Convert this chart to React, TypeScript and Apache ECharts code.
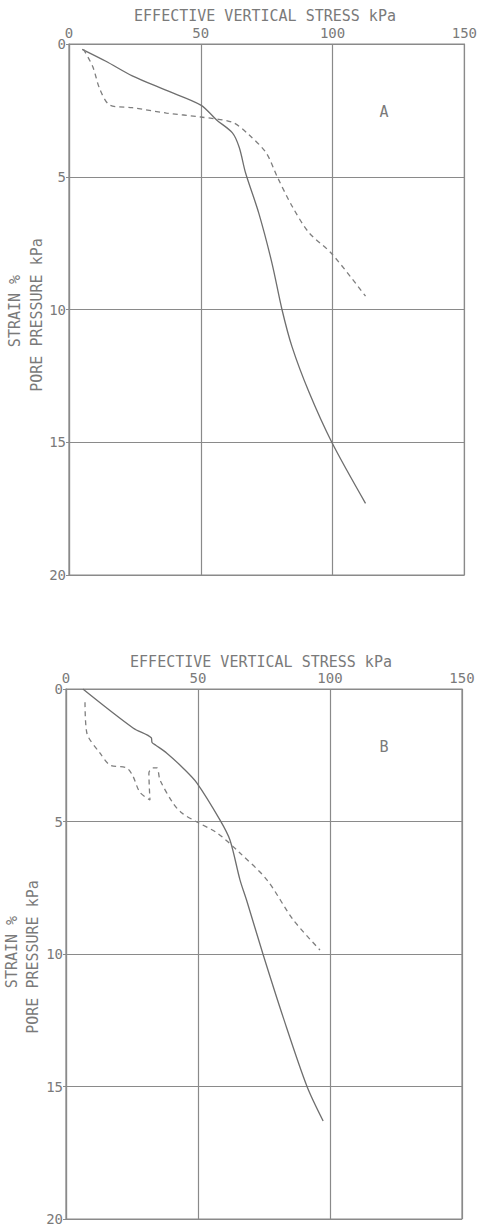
import React, { useEffect, useRef } from "react";
import * as echarts from "echarts";

const xTicks = [0, 50, 100, 150];
const yTicks = [0, 5, 10, 15, 20];

const aSolidX = [5, 14, 24, 37, 50, 56, 62, 64.6, 67, 72, 77, 80.8, 84.6, 91, 99.7, 112.5];
const aSolidY = [0.2, 0.65, 1.2, 1.75, 2.3, 2.86, 3.35, 3.9, 4.86, 6.37, 8.25, 10.0, 11.4, 13.1, 15.0, 17.3];
const aDashX = [5.5, 9, 11.7, 15.5, 24, 37, 50, 62, 68.4, 74.8, 79, 84.6, 91, 99.7, 112.5];
const aDashY = [0.2, 0.85, 1.7, 2.3, 2.4, 2.6, 2.75, 2.95, 3.43, 4.1, 5.0, 6.1, 7.1, 7.9, 9.5];

const bSolidX = [6.4, 25.4, 32.3, 32.6, 34, 38.2, 44.3, 49.6, 58.3, 62.1, 65.9, 68.5, 74.6, 82.3, 91.3, 97.4];
const bSolidY = [0.0, 1.47, 1.84, 2.02, 2.12, 2.42, 2.98, 3.55, 4.94, 5.7, 7.2, 8.0, 10.0, 12.4, 15.0, 16.3];
const bDashX = [7.2, 7.9, 12.9, 16.7, 23, 25.4, 28, 31.8, 31.4, 33, 34.5, 35.6, 40.5, 43.9, 49.6, 57.2, 65.9, 76.1, 86, 96.2];
const bDashY = [0.5, 1.66, 2.42, 2.87, 2.98, 3.3, 3.9, 4.19, 3.17, 2.98, 2.98, 3.43, 4.3, 4.68, 5.02, 5.43, 6.19, 7.2, 8.7, 9.85];

const titleText = "EFFECTIVE VERTICAL STRESS kPa";
const yName1 = "STRAIN %";
const yName2 = "PORE PRESSURE kPa";
const panelLabels = ["A", "B"];

const FONT = "DejaVu Sans Mono";
const INK = "#7a7a7a";
const LINE = "#8a8a8a";

const pairs = (xs: number[], ys: number[]) => xs.map((x, i) => [x, ys[i]]);

export default function App() {
  const ref = useRef<HTMLDivElement>(null);
  useEffect(() => {
    if (!ref.current) return;
    const chart = echarts.init(ref.current, undefined, { renderer: "svg" });
    const grids = [
      { left: 69, top: 44, width: 397, height: 531 },
      { left: 66, top: 689, width: 396, height: 530 },
    ];
    const xAxis = grids.map((_, i) => ({
      type: "value",
      gridIndex: i,
      position: "top",
      min: 0,
      max: 150,
      interval: 50,
      axisLine: { show: true, lineStyle: { color: LINE, width: 1.2 } },
      axisTick: { show: false },
      splitLine: { show: true, lineStyle: { color: LINE, width: 1.2 } },
      axisLabel: {
        color: INK,
        fontFamily: FONT,
        fontSize: 14,
        margin: 4,
        formatter: (v: number) => (xTicks.includes(v) ? String(v) : ""),
      },
    }));
    const yAxis = grids.map((_, i) => ({
      type: "value",
      gridIndex: i,
      inverse: true,
      min: 0,
      max: 20,
      interval: 5,
      axisLine: { show: true, lineStyle: { color: LINE, width: 1.2 } },
      axisTick: { show: true, length: 3, lineStyle: { color: LINE } },
      splitLine: { show: true, lineStyle: { color: LINE, width: 1.2 } },
      axisLabel: {
        color: INK,
        fontFamily: FONT,
        fontSize: 14,
        margin: 3,
        formatter: (v: number) => (yTicks.includes(v) ? String(v) : ""),
      },
    }));
    const solid = { color: "#6e6e6e", width: 1.3, type: "solid" };
    const dashed = { color: "#7e7e7e", width: 1.3, type: [5, 4] };
    const series = [
      { data: pairs(aSolidX, aSolidY), idx: 0, ls: solid },
      { data: pairs(aDashX, aDashY), idx: 0, ls: dashed },
      { data: pairs(bSolidX, bSolidY), idx: 1, ls: solid },
      { data: pairs(bDashX, bDashY), idx: 1, ls: dashed },
    ].map((s) => ({
      type: "line",
      xAxisIndex: s.idx,
      yAxisIndex: s.idx,
      data: s.data,
      showSymbol: false,
      symbol: "none",
      smooth: 0.3,
      lineStyle: s.ls,
    }));
    const txt = (x: number, y: number, text: string, size: number, rot = 0) => ({
      type: "text",
      x,
      y,
      rotation: rot,
      style: {
        text,
        fill: INK,
        font: `${size}px "${FONT}"`,
        align: "center",
        verticalAlign: "middle",
      },
    });
    const graphic = [
      txt(265, 16, titleText, 15),
      txt(261, 662, titleText, 15),
      txt(384, 112, panelLabels[0], 15),
      txt(384, 747, panelLabels[1], 15),
      txt(15, 311, yName1, 15, Math.PI / 2),
      txt(37, 315, yName2, 15, Math.PI / 2),
      txt(12, 952, yName1, 15, Math.PI / 2),
      txt(33, 957, yName2, 15, Math.PI / 2),
    ];
    chart.setOption({
      animation: false,
      backgroundColor: "#ffffff",
      grid: grids.map((g) => ({ ...g, show: true, borderColor: LINE, borderWidth: 1.2, containLabel: false })),
      xAxis,
      yAxis,
      series,
      graphic,
    });
    return () => chart.dispose();
  }, []);
  return (
    <div
      ref={ref}
      style={{ position: "absolute", left: 0, top: 0, width: 480, height: 1226 }}
    />
  );
}
